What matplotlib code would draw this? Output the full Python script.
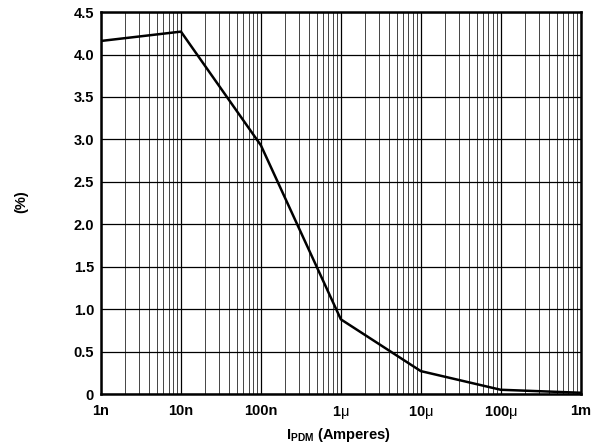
import numpy as np
import matplotlib.pyplot as plt
from matplotlib.ticker import FixedLocator, LogLocator, NullFormatter

plt.rcParams['font.family'] = ['Liberation Sans', 'DejaVu Sans']
plt.rcParams['mathtext.fontset'] = 'custom'
plt.rcParams['mathtext.rm'] = 'Liberation Sans'
plt.rcParams['mathtext.bf'] = 'Liberation Sans:bold'

# current (A) vs. percent
current = [1e-9, 1e-8, 1e-7, 1e-6, 1e-5, 1e-4, 1e-3]
percent = [4.16, 4.27, 2.93, 0.88, 0.27, 0.05, 0.015]

x_ticks = [1e-9, 1e-8, 1e-7, 1e-6, 1e-5, 1e-4, 1e-3]
x_labels = ["1n", "10n", "100n", r"$\mathbf{1}\mathrm{\mu}$", r"$\mathbf{10}\mathrm{\mu}$",
            r"$\mathbf{100}\mathrm{\mu}$", "1m"]
y_ticks = [0, 0.5, 1.0, 1.5, 2.0, 2.5, 3.0, 3.5, 4.0, 4.5]
y_labels = ["0", "0.5", "1.0", "1.5", "2.0", "2.5", "3.0", "3.5", "4.0", "4.5"]

fig = plt.figure(figsize=(6.03, 4.48), dpi=100)
ax = fig.add_axes([0.1675, 0.1205, 0.7955, 0.8525])

ax.plot(current, percent, color="black", lw=1.8, zorder=3)

ax.set_xscale("log")
ax.set_xlim(1e-9, 1e-3)
ax.set_ylim(0, 4.5)

fs = 10.5
ax.xaxis.set_major_locator(FixedLocator(x_ticks))
ax.set_xticklabels(x_labels, fontweight="bold", fontsize=fs)
ax.xaxis.set_minor_locator(LogLocator(base=10, subs=np.arange(2, 10)))
ax.xaxis.set_minor_formatter(NullFormatter())
ax.set_yticks(y_ticks)
ax.set_yticklabels(y_labels, fontweight="bold", fontsize=fs)

ax.grid(which="major", color="black", lw=0.9)
ax.grid(which="minor", axis="x", color="#444444", lw=0.7)
ax.tick_params(which="both", length=0)
ax.tick_params(axis="x", pad=7)
ax.tick_params(axis="y", pad=5)

for s in ax.spines.values():
    s.set_linewidth(1.8)

fig.text(0.562, 0.028, "I$_{\\mathbf{PDM}}$ (Amperes)", fontweight="bold", fontsize=fs,
         ha="center", va="center")
fig.text(0.036, 0.55, "(%)", rotation=90, fontweight="bold", fontsize=fs, va="center", ha="center")

fig.savefig("out.png", dpi=100)
